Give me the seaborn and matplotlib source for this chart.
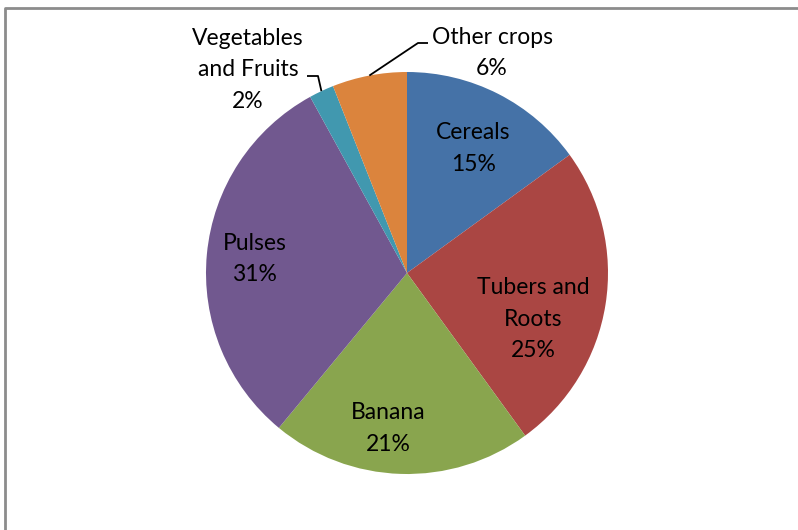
import numpy as np
import matplotlib
matplotlib.use("Agg")
import matplotlib.pyplot as plt
import seaborn as sns

sns.set_theme(style="white")
plt.rcParams['font.family'] = ['Lato', 'DejaVu Sans']

# data
crops = ["Cereals", "Tubers and\nRoots", "Banana", "Pulses", "Vegetables\nand Fruits", "Other crops"]
shares = [15, 25, 21, 31, 2, 6]
colors = ["#4572A7", "#AA4643", "#89A54E", "#71588F", "#4198AF", "#DB843D"]

W, H = 798, 530
fig = plt.figure(figsize=(W / 100, H / 100), dpi=100)
ax = fig.add_axes([0, 0, 1, 1])

cx, cy, R = 407, H - 273, 201
wedges, _ = ax.pie(shares, colors=colors, startangle=90, counterclock=False,
                   center=(cx, cy), radius=R, frame=True,
                   wedgeprops=dict(linewidth=0))
ax.set_xlim(0, W)
ax.set_ylim(0, H)
ax.set_aspect("equal")
ax.axis("off")

FS, LS = 16.5, 1.62

# label placement: inside labels as (angle, fraction of radius), outside as pixel anchors
inside = {0: (62, 0.70), 1: (-20, 0.67), 2: (-97, 0.78), 3: (174.7, 0.76)}
for i, (ang, f) in inside.items():
    a = np.deg2rad(ang)
    ax.text(cx + f * R * np.cos(a), cy + f * R * np.sin(a),
            f"{crops[i]}\n{shares[i]}%", ha="center", va="center",
            fontsize=FS, color="black", linespacing=LS)

outside = {4: ((248, H - 70), [(307, H - 76), (318, H - 76)]),
           5: ((492, H - 53), [(428, H - 43), (418, H - 43)])}
for i, ((tx, ty), elbow) in outside.items():
    ax.text(tx, ty, f"{crops[i]}\n{shares[i]}%", ha="center", va="center",
            fontsize=FS, color="black", linespacing=LS)
    w = wedges[i]
    mid = np.deg2rad((w.theta1 + w.theta2) / 2)
    px, py = cx + R * np.cos(mid), cy + R * np.sin(mid)
    xs = [p[0] for p in elbow] + [px]
    ys = [p[1] for p in elbow] + [py]
    ax.plot(xs, ys, color="black", lw=1.3, solid_capstyle="butt")

# chart area frame (clipped at right and bottom like the screenshot)
ax.plot([5, 5, W + 5], [-5, H - 8, H - 8], color="#8c8c8c", lw=2, clip_on=False)

fig.savefig("out.png", dpi=100)
